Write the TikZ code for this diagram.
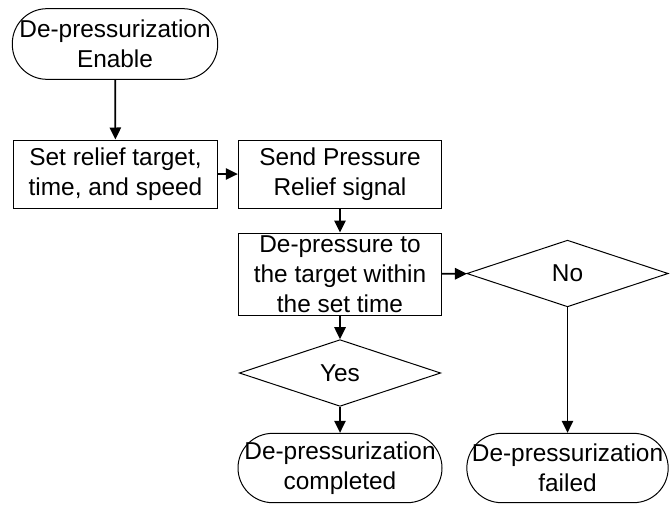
\documentclass[tikz,border=0pt]{standalone}
\usepackage{fontspec}
\setmainfont{Liberation Sans}
\usetikzlibrary{shapes.geometric,arrows.meta}
\begin{document}
\begin{tikzpicture}[x=0.75pt,y=-0.75pt,
  every node/.style={font=\fontsize{18.3}{22.5}\selectfont, align=center, inner sep=0pt},
  term/.style={draw, line width=0.75pt, rounded corners=26pt, minimum width=154pt, minimum height=53pt},
  box/.style={draw, line width=0.75pt, minimum width=152.5pt, minimum height=51pt},
  dec/.style={draw, line width=0.75pt, diamond, aspect=1, minimum width=151pt, minimum height=50pt},
  arr/.style={-{Triangle[length=9pt,width=8.5pt]}, line width=1.3pt}
]
\useasboundingbox (0,0) rectangle (670,504);
\node[term] (start) at (115,44) {De-pressurization\\Enable};
\node[box] (set) at (115.5,174) {Set relief target,\\time, and speed};
\node[box] (send) at (340,174) {Send Pressure\\Relief signal};
\node[box, minimum height=61.5pt] (dep) at (340,274) {De-pressure to\\the target within\\the set time};
\node[dec] (no) at (567.5,273.5) {No};
\node[dec] (yes) at (340,373) {Yes};
\node[term, minimum width=153pt, minimum height=52pt] (done) at (340,468) {De-pressurization\\completed};
\node[term, minimum width=151pt, minimum height=52pt] (fail) at (567.5,468) {De-pressurization\\failed};
\draw[arr] (start) -- (set);
\draw[arr] (set) -- (send);
\draw[arr] (send) -- (dep);
\draw[arr] (dep) -- (no);
\draw[arr] (dep) -- (yes);
\draw[arr] (yes) -- (done);
\draw[arr] (no) -- (fail);
\end{tikzpicture}
\end{document}
